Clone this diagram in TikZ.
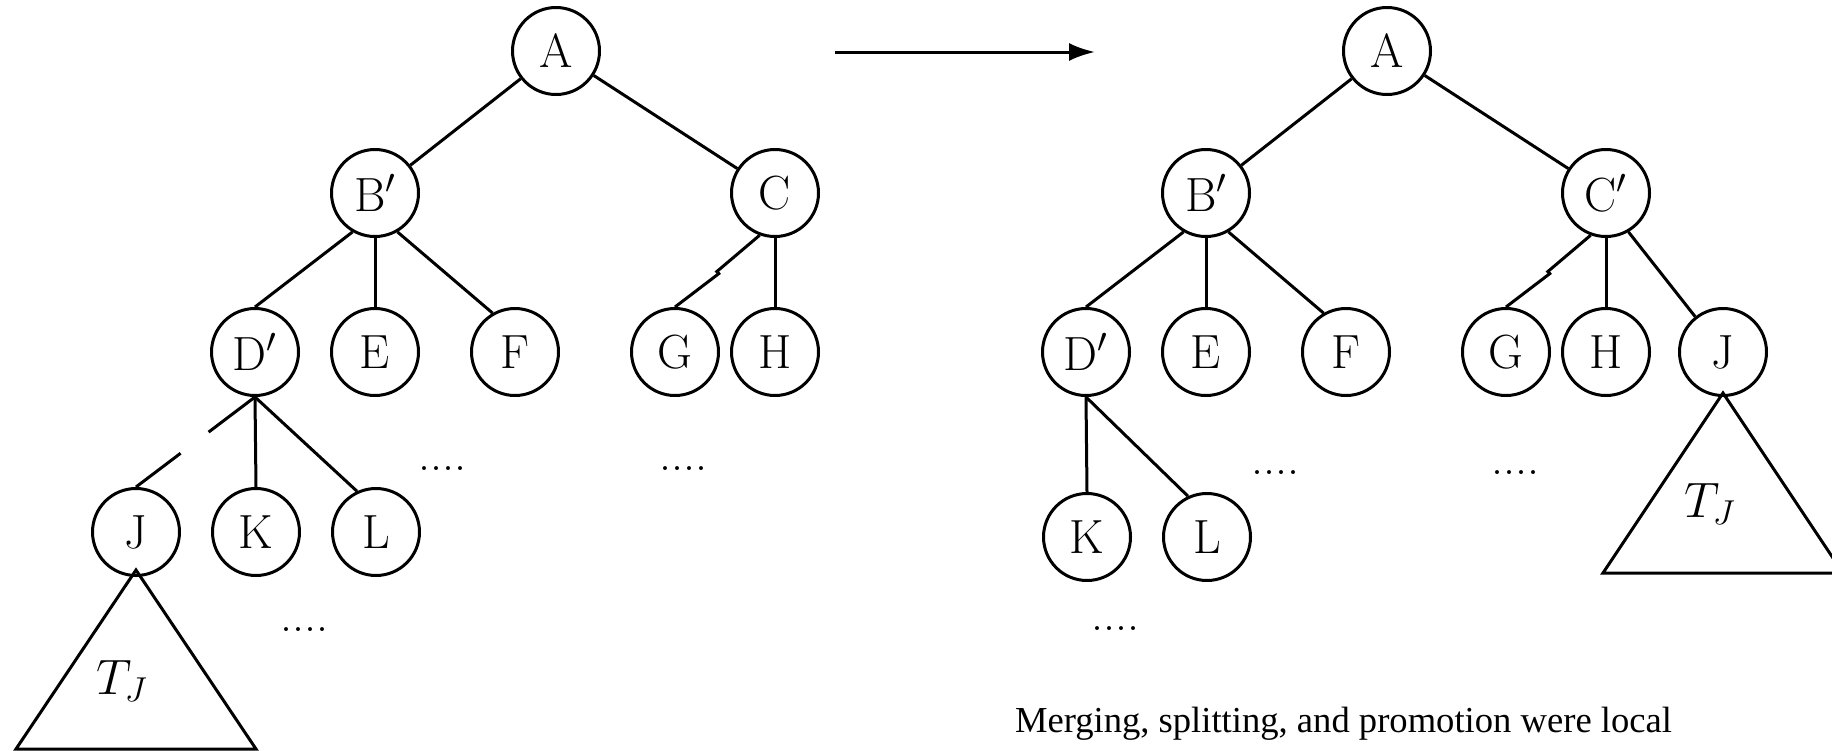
\documentclass[tikz,border=0pt]{standalone}
\usepackage{fontspec}
\newfontfamily\capfont{Liberation Serif}
\usetikzlibrary{arrows.meta,calc}
\tikzset{vertex/.style  = {circle, draw, line width=1.5pt, minimum size=43.5pt, inner sep=0pt,
		font=\fontsize{24}{28}\selectfont},
	link/.style    = {draw, line width=1.5pt},
	line/.style    = {draw, line width=1.5pt, -{Latex[length=13pt,width=9pt]}},
	more/.style    = {inner sep=0pt, font=\fontsize{24}{28}\selectfont},
	subtree/.style = {draw, line width=1.5pt, line join=miter}
}

\begin{document}
\begin{tikzpicture}[x=0.5pt, y=-0.5pt, node distance=60pt]
		\clip (0,0) rectangle (1832,750);
		%% left tree, before the promotion
		\node [vertex] (al) at (556,51) {A};
		\node [vertex] (bl) at (375,193) {B$'$};
		\node [vertex, right of=bl, node distance=200pt] (cl) {C};
		\node [vertex] (dl) at (255,352) {D$'$};
		\node [vertex, right of=dl] (el) {E};
		\node [vertex, right of=el, node distance=70pt] (fl) {F};
		\node [vertex, right of=fl, node distance=80pt] (gl) {G};
		\node [vertex, right of=gl, node distance=50pt] (hl) {H};
		\node [vertex] (jl) at (136,532) {J};
		\node [vertex, right of=jl] (kl) {K};
		\node [vertex, right of=kl] (ll) {L};
		\node [more] (mla) at (442,469) {....};
		\node [more] (mlb) at (683,469) {....};
		\node [more] (mlc) at (304,630) {....};
		\path [link] (al) -- (bl);
		\path [link] (al) -- (cl);
		\path [link] (bl.240) -- (dl.north);
		\path [link] (bl.south) -- (el.north);
		\path [link] (bl.300) -- (fl.120);
		%% the link from C to G has a small jog half way
		\path [link] (cl.250) -- ($(cl.250)!0.52!(gl.north)$);
		\path [link] ($(cl.250)!0.48!(gl.north)+(1,3)$) -- (gl.north);
		\path [link] (cl.south) -- (hl.north);
		%% D' to J is cut
		\path [link] (dl.south) -- ($(dl.south)!0.39!(jl.north)$);
		\path [link] ($(dl.south)!0.625!(jl.north)$) -- (jl.north);
		\path [link] (dl.south) -- (kl.north);
		\path [link] (dl.south) -- (ll.115);
		\coordinate (tjl) at ($(jl.south)+(0,-7)$);
		\path [subtree] (tjl) -- ++(-120,179) -- ++(240,0) -- cycle;
		\node [more] (tl) at ($(tjl)+(-14,111)$) {$T_J$};

		%% the step between both trees
		\coordinate (go) at (835,52);
		\coordinate (done) at (1095,52);
		\path [line] (go) -- (done);

		%% right tree, after the promotion
		\node [vertex] (ar) at (1387,51) {A};
		\node [vertex] (br) at (1206,193) {B$'$};
		\node [vertex, right of=br, node distance=200pt] (cr) {C$'$};
		\node [vertex] (dr) at (1086,352) {D$'$};
		\node [vertex, right of=dr] (er) {E};
		\node [vertex, right of=er, node distance=70pt] (fr) {F};
		\node [vertex, right of=fr, node distance=80pt] (gr) {G};
		\node [vertex, right of=gr, node distance=50pt] (hr) {H};
		\node [vertex, right of=hr, node distance=58.5pt] (jr) {J};
		\node [vertex] (kr) at (1087,537) {K};
		\node [vertex, right of=kr] (lr) {L};
		\node [more] (mra) at (1275,473) {....};
		\node [more] (mrb) at (1515,473) {....};
		\node [more] (mrc) at (1115,629) {....};
		\path [link] (ar) -- (br);
		\path [link] (ar) -- (cr);
		\path [link] (br.240) -- (dr.north);
		\path [link] (br.south) -- (er.north);
		\path [link] (br.300) -- (fr.120);
		\path [link] (cr.250) -- ($(cr.250)!0.52!(gr.north)$);
		\path [link] ($(cr.250)!0.48!(gr.north)+(1,3)$) -- (gr.north);
		\path [link] (cr.south) -- (hr.north);
		\path [link] (cr.300) -- (jr);
		\path [link] (dr.south) -- (kr.north);
		\path [link] (dr.south) -- (lr.115);
		\coordinate (tjr) at ($(jr.south)+(0,-4)$);
		\path [subtree] (tjr) -- ++(-120,180) -- ++(240,0) -- cycle;
		\node [more] (tr) at ($(tjr)+(-13,111)$) {$T_J$};

		\node [font=\capfont\fontsize{18.3}{22}\selectfont, anchor=base] (note) at (1343.5,732)
			{Merging, splitting, and promotion were local};
	\end{tikzpicture}
\end{document}
